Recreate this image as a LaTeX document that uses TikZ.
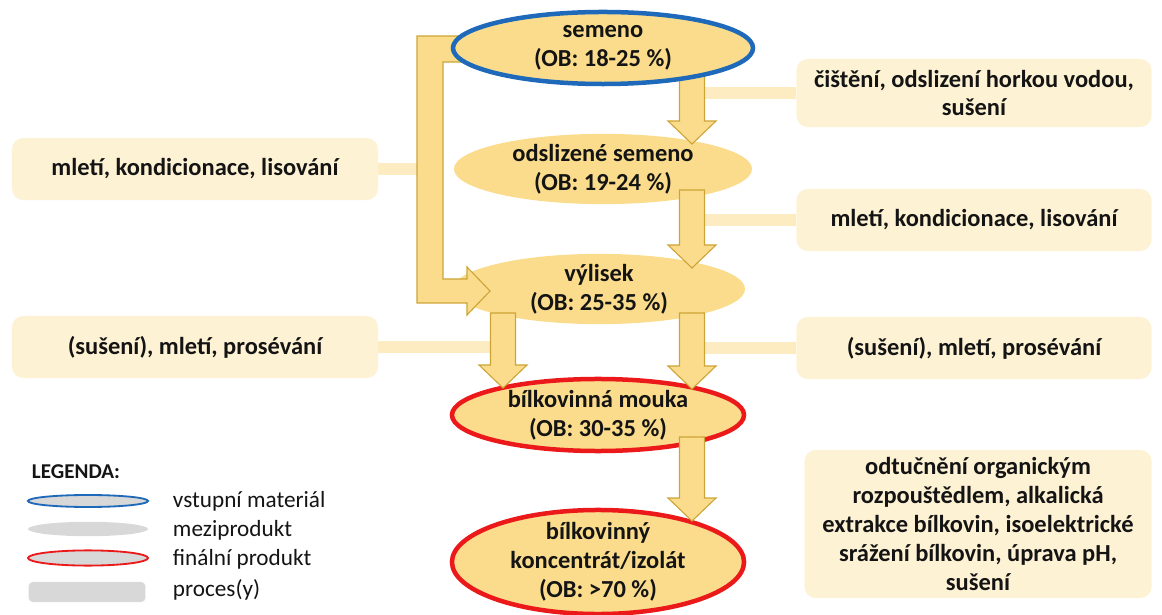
\documentclass[tikz,border=0pt]{standalone}
\usepackage{fontspec}
\setmainfont{Carlito}
\usetikzlibrary{shapes.geometric,calc,backgrounds}
\definecolor{corn}{RGB}{250,220,140}
\definecolor{cream}{RGB}{254,242,212}
\definecolor{straw}{RGB}{253,236,194}
\definecolor{ochre}{RGB}{205,165,55}
\definecolor{sea}{RGB}{30,105,185}
\definecolor{scarlet}{RGB}{235,25,25}
\definecolor{ash}{RGB}{216,216,216}
\definecolor{ink}{RGB}{20,20,20}
\pgfdeclarelayer{front}
\pgfsetlayers{background,main,front}
\tikzset{
  product/.style={ellipse,fill=corn,inner sep=0pt,align=center,text=ink,
    font=\fontsize{17.4}{20.5}\selectfont\bfseries},
  input/.style={product,draw=sea,line width=3.2pt},
  final/.style={product,draw=scarlet,line width=3.2pt},
  stepbox/.style={fill=cream,rounded corners=8pt,inner sep=0pt,align=center,text=ink,
    minimum width=8.875cm,minimum height=1.55cm,font=\fontsize{17.4}{20.5}\selectfont\bfseries},
  link/.style={draw=straw,line width=9pt},
  fat/.style={fill=corn,draw=ochre,line width=0.8pt,line join=miter},
  key/.style={anchor=west,text=ink,font=\fontsize{16.5}{18}\selectfont},
  keyshape/.style={ellipse,fill=ash,minimum width=3cm,minimum height=#1,inner sep=0pt},
}
% block arrow from #1 straight down to the tip #2
\newcommand\fatdown[2]{%
  \draw[fat] ($(#1)+(-12.5,0)$) -- ($(#2)+(-12.5,-23)$) -- ($(#2)+(-24,-23)$) -- (#2)
    -- ($(#2)+(24,-23)$) -- ($(#2)+(12.5,-23)$) -- ($(#1)+(12.5,0)$) -- cycle;}

\begin{document}
\begin{tikzpicture}[x=0.025cm,y=-0.025cm]
  \useasboundingbox (0,0) rectangle (1162,615);

  % products
  \begin{pgfonlayer}{front}
    \node[input,minimum width=7.5cm,minimum height=1.8cm] (seed) at (603,48) {semeno\\(OB: 18-25 \%)};
  \end{pgfonlayer}
  \node[product,minimum width=7.45cm,minimum height=1.6cm] (clean) at (603,169) {odslizené semeno\\(OB: 19-24 \%)};
  \node[product,minimum width=7.3cm,minimum height=1.55cm] (cake) at (599,289) {výlisek\\(OB: 25-35 \%)};
  \node[final,minimum width=7.3cm,minimum height=1.8cm] (flour) at (598,415) {bílkovinná mouka\\(OB: 30-35 \%)};
  \node[final,inner ysep=-4pt,minimum width=7.3cm,minimum height=2.6cm] (conc) at (598,562) {bílkovinný\\koncentrát/izolát\\(OB: >70 \%)};

  % processes
  \node[stepbox,minimum height=1.7cm] (wash) at (974,93) {čištění, odslizení horkou vodou,\\sušení};
  \node[stepbox] (pressR) at (974,220) {mletí, kondicionace, lisování};
  \node[stepbox] (sieveR) at (974,348) {(sušení), mletí, prosévání};
  \node[stepbox,minimum width=8.675cm,minimum height=3.7cm] (defat) at (978,524)
    {odtučnění organickým\\rozpouštědlem, alkalická\\extrakce bílkovin, isoelektrické\\srážení bílkovin, úprava pH,\\sušení};
  \node[stepbox,minimum width=9.15cm] (pressL) at (195,169) {mletí, kondicionace, lisování};
  \node[stepbox,minimum width=9.15cm] (sieveL) at (195,347) {(sušení), mletí, prosévání};

  % arrow ends
  \coordinate (rx) at (692,0);
  \coordinate (lx) at (430,0);
  \coordinate (a1) at (692,76);   \coordinate (b1) at (692,144);
  \coordinate (a2) at (692,190);  \coordinate (b2) at (692,268);
  \coordinate (a3) at (692,313);  \coordinate (b3) at (692,389);
  \coordinate (a4) at (503,313);  \coordinate (b4) at (503,388);
  \coordinate (a5) at (692,437);  \coordinate (b5) at (692,521);

  % process links
  \begin{pgfonlayer}{background}
    \draw[link] (wash.west) -- (wash.west -| rx);
    \draw[link] (pressR.west) -- (pressR.west -| rx);
    \draw[link] (sieveR.west) -- (sieveR.west -| rx);
    \draw[link] ($(defat.west)+(2,-45)$) -- ($(defat.west)+(2,-45)$ -| rx);
    \draw[link] (pressL.east) -- (pressL.east -| lx);
    \draw[link] (sieveL.east) -- (sieveL.east -| a4);
  \end{pgfonlayer}

  % flow
  \draw[fat] ($(seed.west)+(20,-12)$) -- (417,36) -- (417,303) -- (467,303) -- (467,315) -- (490,291)
    -- (467,267) -- (467,279) -- (443,279) -- (443,62) -- ($(seed.west)+(20,14)$);
  \fatdown{a1}{b1}
  \fatdown{a2}{b2}
  \fatdown{a3}{b3}
  \fatdown{a4}{b4}
  \fatdown{a5}{b5}

  % legend
  \node[key,font=\fontsize{15}{17}\selectfont\bfseries] (legend) at (27,472) {LEGENDA:};
  \node[keyshape=0.3cm,draw=sea,line width=1.3pt] (kin) at (88,501) {};
  \node[keyshape=0.36cm] (kmid) at (88,529) {};
  \node[keyshape=0.38cm,draw=scarlet,line width=1.3pt] (kfin) at (88,558) {};
  \node[fill=ash,rounded corners=3pt,minimum width=2.92cm,minimum height=0.5cm,inner sep=0pt] (kstep) at (87,592) {};
  \node[key] at (168,501) {vstupní materiál};
  \node[key] at (168,530) {meziprodukt};
  \node[key] at (168,559) {finální produkt};
  \node[key] at (168,590) {proces(y)};
\end{tikzpicture}
\end{document}
